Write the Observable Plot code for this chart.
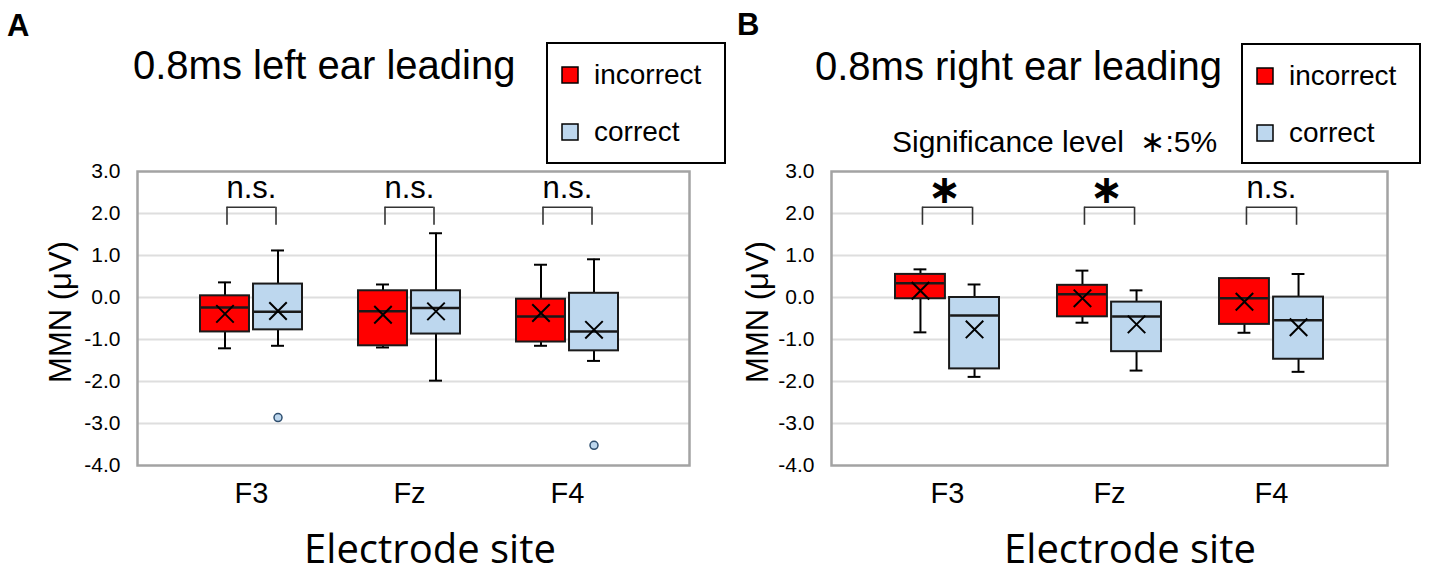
<!DOCTYPE html>
<html>
<head>
<meta charset="utf-8">
<script src="https://cdn.jsdelivr.net/npm/d3@7"></script>
<script src="https://cdn.jsdelivr.net/npm/@observablehq/plot@0.6"></script>
<style>
  html, body { margin: 0; padding: 0; background: #fff; }
  #fig { position: relative; width: 1430px; height: 578px; overflow: hidden; background: #fff; }
  #fig > svg { position: absolute; top: 0; }
</style>
</head>
<body>
<div id="fig"></div>
<script>
// ---------- data ----------
const electrodes = ["F3", "Fz", "F4"];
const conditions = ["incorrect", "correct"];
const conditionColors = ["#ff0000", "#bdd7ee"];
const yTicks = [-4, -3, -2, -1, 0, 1, 2, 3];

// each row: [min, q1, median, q3, max, mean] for F3, Fz, F4
const leftIncorrect = [
  [-1.21, -0.82, -0.24, 0.04, 0.36, -0.39],
  [-1.19, -1.15, -0.33, 0.16, 0.31, -0.41],
  [-1.15, -1.06, -0.45, -0.04, 0.78, -0.37]
];
const leftCorrect = [
  [-1.15, -0.77, -0.34, 0.32, 1.12, -0.32],
  [-1.98, -0.87, -0.25, 0.16, 1.53, -0.33],
  [-1.51, -1.27, -0.81, 0.10, 0.91, -0.77]
];
const leftOutlierSites = ["F3", "F4"];
const leftOutlierConditions = ["correct", "correct"];
const leftOutlierValues = [-2.86, -3.52];
const leftSignificance = ["n.s.", "n.s.", "n.s."];

const rightIncorrect = [
  [-0.83, -0.03, 0.34, 0.55, 0.67, 0.16],
  [-0.60, -0.46, 0.08, 0.29, 0.64, -0.02],
  [-0.84, -0.64, -0.02, 0.45, 0.45, -0.10]
];
const rightCorrect = [
  [-1.89, -1.70, -0.43, 0.00, 0.31, -0.76],
  [-1.74, -1.29, -0.45, -0.11, 0.17, -0.64],
  [-1.77, -1.47, -0.54, 0.01, 0.56, -0.71]
];
const rightOutlierSites = [];
const rightOutlierConditions = [];
const rightOutlierValues = [];
const rightSignificance = ["∗", "∗", "n.s."];

// bracket levels (MMN units)
const bracketTop = 2.15;
const bracketLeg = 1.72;
const labelLevel = 2.36;

// ---------- helpers ----------
function rows(stats, cond) {
  return stats.map((s, i) => ({site: electrodes[i], cond, min: s[0], q1: s[1], med: s[2], q3: s[3], max: s[4], mean: s[5]}));
}

const FONT = "'Liberation Sans', Arial, Helvetica, sans-serif";

function panel(cfg) {
  const W = 715, H = 578, mt = 171, mb = 113;
  const inner = W - cfg.marginLeft - cfg.marginRight;
  const step = inner / (electrodes.length - cfg.paddingInner + 2 * cfg.paddingOuter);
  const bw = step * (1 - cfg.paddingInner);
  const gap = 4, cap = 13;
  const boxW = (bw - gap) / 2;
  const off = (bw + gap) / 4;

  const marks = [
    Plot.ruleY(yTicks.slice(1, -1), {stroke: "#dedede", strokeWidth: 2}),
    Plot.frame({stroke: "#a3a3a3", strokeWidth: 2.5}),
    Plot.axisY(yTicks, {tickSize: 0, tickPadding: 17, fontSize: 21, tickFormat: d => d.toFixed(1), label: null}),
    Plot.axisX(electrodes, {tickSize: 0, tickPadding: 17, fontSize: 29, label: null})
  ];

  const groups = [rows(cfg.incorrect, "incorrect"), rows(cfg.correct, "correct")];
  groups.forEach((data, k) => {
    const sign = k === 0 ? -1 : 1;
    const insL = k === 0 ? 0 : bw - boxW;
    const insR = k === 0 ? bw - boxW : 0;
    const capL = (k === 0 ? boxW / 2 : bw - boxW / 2) - cap / 2;
    const capR = bw - capL - cap;
    marks.push(
      Plot.ruleX(data, {x: "site", y1: "min", y2: "max", dx: sign * off, stroke: "#000", strokeWidth: 2}),
      Plot.tickY(data, {x: "site", y: "min", insetLeft: capL, insetRight: capR, stroke: "#000", strokeWidth: 2}),
      Plot.tickY(data, {x: "site", y: "max", insetLeft: capL, insetRight: capR, stroke: "#000", strokeWidth: 2}),
      Plot.barY(data, {x: "site", y1: "q1", y2: "q3", fill: conditionColors[k], stroke: "#1a1a1a", strokeWidth: 2, insetLeft: insL, insetRight: insR}),
      Plot.tickY(data, {x: "site", y: "med", insetLeft: insL + 1, insetRight: insR + 1, stroke: "#1a1a1a", strokeWidth: 2.5}),
      Plot.dot(data, {x: "site", y: "mean", symbol: "times", r: 8, stroke: "#000", strokeWidth: 2, dx: sign * off})
    );
    const outs = cfg.outSites.map((s, i) => ({site: s, cond: cfg.outConds[i], value: cfg.outValues[i]}))
      .filter(d => d.cond === conditions[k]);
    marks.push(Plot.dot(outs, {x: "site", y: "value", r: 4, fill: conditionColors[k], stroke: "#2f4f6f", strokeWidth: 1.5, dx: sign * off}));
  });

  const sig = electrodes.map((e, i) => ({site: e, label: cfg.sig[i]}));
  marks.push(
    Plot.tickY(sig, {x: "site", y: () => bracketTop, insetLeft: boxW / 2 + 2, insetRight: boxW / 2 + 2, stroke: "#333", strokeWidth: 1.6}),
    Plot.ruleX(sig, {x: "site", y1: () => bracketLeg, y2: () => bracketTop, dx: -(off - 2), stroke: "#333", strokeWidth: 1.6}),
    Plot.ruleX(sig, {x: "site", y1: () => bracketLeg, y2: () => bracketTop, dx: (off - 2), stroke: "#333", strokeWidth: 1.6}),
    Plot.text(sig.filter(d => d.label === "n.s."), {x: "site", y: () => labelLevel, text: "label", lineAnchor: "bottom", fontSize: 31, fill: "#000"}),
    Plot.text(sig.filter(d => d.label !== "n.s."), {x: "site", y: () => labelLevel, text: "label", lineAnchor: "bottom", fontSize: 40, fontWeight: "bold", fontFamily: "DejaVu Sans", dx: -3, dy: 5, fill: "#000"})
  );

  return Plot.plot({
    width: W, height: H,
    marginLeft: cfg.marginLeft, marginRight: cfg.marginRight, marginTop: mt, marginBottom: mb,
    style: {fontFamily: FONT, color: "#000", background: "transparent", overflow: "visible"},
    x: {type: "band", domain: electrodes, paddingInner: cfg.paddingInner, paddingOuter: cfg.paddingOuter, align: cfg.align},
    y: {domain: [-4, 3]},
    marks
  });
}

const fig = document.getElementById("fig");

const pA = panel({
  incorrect: leftIncorrect, correct: leftCorrect,
  outSites: leftOutlierSites, outConds: leftOutlierConditions, outValues: leftOutlierValues,
  sig: leftSignificance,
  marginLeft: 137, marginRight: 26, paddingInner: 0.356, paddingOuter: 0.42, align: 0.466
});
pA.style.left = "0px";
fig.appendChild(pA);

const pB = panel({
  incorrect: rightIncorrect, correct: rightCorrect,
  outSites: rightOutlierSites, outConds: rightOutlierConditions, outValues: rightOutlierValues,
  sig: rightSignificance,
  marginLeft: 116, marginRight: 43, paddingInner: 0.36, paddingOuter: 0.388, align: 0.5
});
pB.style.left = "715px";
fig.appendChild(pB);

// ---------- overlay: panel letters, titles, legends, axis titles ----------
const ov = d3.select(fig).append("svg")
  .attr("width", 1430).attr("height", 578)
  .style("position", "absolute").style("left", "0px").style("top", "0px")
  .style("pointer-events", "none")
  .style("font-family", FONT);

function txt(x, y, s, size, opts = {}) {
  const t = ov.append("text").attr("x", x).attr("y", y).attr("font-size", size).attr("fill", "#000").text(s);
  if (opts.anchor) t.attr("text-anchor", opts.anchor);
  if (opts.weight) t.attr("font-weight", opts.weight);
  if (opts.family) t.attr("font-family", opts.family);
  if (opts.rotate) t.attr("transform", `rotate(-90 ${x} ${y})`).attr("dominant-baseline", "central");
  return t;
}

txt(7, 36, "A", 31, {weight: "bold"});
txt(737, 35, "B", 31, {weight: "bold"});
txt(133, 79, "0.8ms left ear leading", 40);
txt(815, 80, "0.8ms right ear leading", 40);
txt(892, 152, "Significance level \u00a0∗:5%", 30);

const legends = [
  {x: 547, y: 43, w: 178, h: 120},
  {x: 1242, y: 44, w: 178, h: 119}
];
legends.forEach(L => {
  ov.append("rect").attr("x", L.x).attr("y", L.y).attr("width", L.w).attr("height", L.h)
    .attr("fill", "#fff").attr("stroke", "#000").attr("stroke-width", 2);
  conditions.forEach((c, i) => {
    const cy = L.y + 24 + i * 57;
    ov.append("rect").attr("x", L.x + 15).attr("y", cy).attr("width", 16).attr("height", 16)
      .attr("fill", conditionColors[i]).attr("stroke", "#000").attr("stroke-width", 1.5);
    txt(L.x + 47, cy + 17, c, 28);
  });
});

[{cx: 60, cy: 312}, {cx: 757, cy: 312}].forEach(p => txt(p.cx, p.cy, "MMN (μV)", 31, {anchor: "middle", rotate: true}));
[{cx: 430, y: 563}, {cx: 1130, y: 563}].forEach(p => txt(p.cx, p.y, "Electrode site", 40, {anchor: "middle", family: "'Open Sans', sans-serif"}));
</script>
</body>
</html>
